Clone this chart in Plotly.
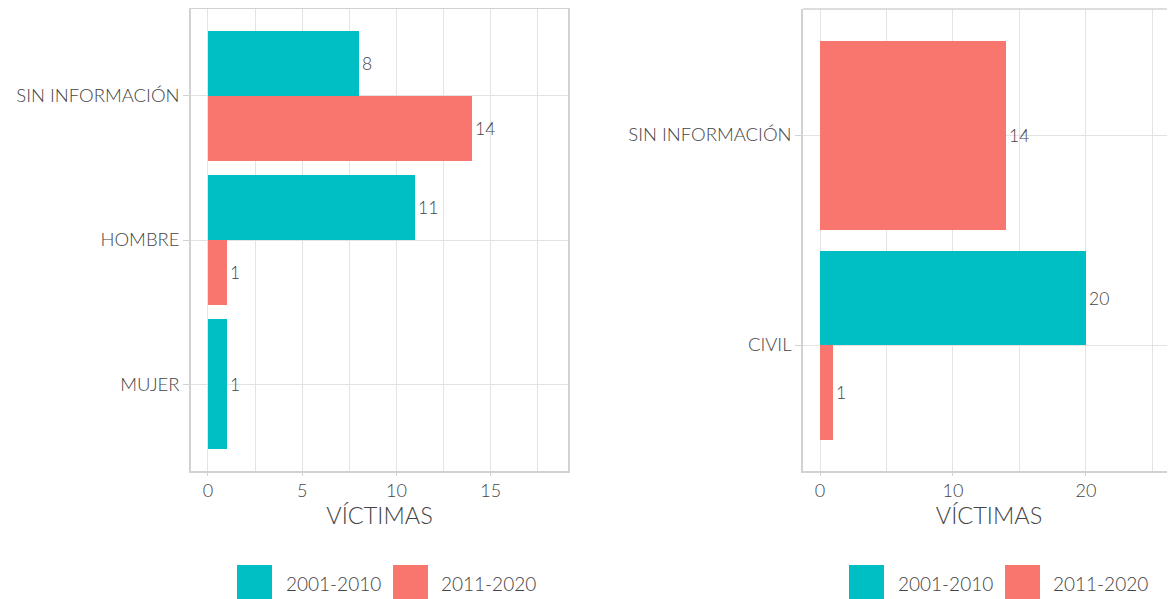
import plotly.graph_objects as go

# ---- data ----
series = ["2001-2010", "2011-2020"]
colors = {"2001-2010": "#00BFC4", "2011-2020": "#F8766D"}

sexo_cats = ["SIN INFORMACIÓN", "HOMBRE", "MUJER"]
sexo_2001_2010 = [8, 11, 1]
sexo_2011_2020 = [14, 1, None]

cond_cats = ["SIN INFORMACIÓN", "CIVIL"]
cond_2001_2010 = [None, 20]
cond_2011_2020 = [14, 1]

FONT = "Lato"
TXT = "#444444"
GRID = "#e3e3e3"
BORDER = "#d2d2d2"

# the page body has an 8px margin; the figure is sized to the visible area
OFF = 8
W, H = 1175 - OFF, 599 - OFF


def px(x):
    return (x - OFF) / W


def py(y):
    return 1 - (y - OFF) / H


fig = go.Figure()


def add_panel(cats, vals_by_series, xa, ya):
    # ggplot-like dodge: bars present in a category share width 0.9
    for s in series:
        ys, xs, ws = [], [], []
        for i, c in enumerate(cats):
            present = [t for t in series if vals_by_series[t][i] is not None]
            if vals_by_series[s][i] is None:
                continue
            n = len(present)
            w = 0.9 / n
            k = present.index(s)
            ys.append(i - 0.45 + w * (k + 0.5))
            xs.append(vals_by_series[s][i])
            ws.append(w)
        fig.add_trace(go.Bar(
            x=xs, y=ys, width=ws, orientation="h", name=s,
            marker=dict(color=colors[s], line=dict(width=0)),
            text=[str(v) for v in xs], textposition="outside",
            textfont=dict(family=FONT, size=17.5, color=TXT, weight=300),
            cliponaxis=False, showlegend=False,
            xaxis=xa, yaxis=ya,
        ))


add_panel(sexo_cats, {"2001-2010": sexo_2001_2010, "2011-2020": sexo_2011_2020}, "x", "y")
add_panel(cond_cats, {"2001-2010": cond_2001_2010, "2011-2020": cond_2011_2020}, "x2", "y2")

ydom = [py(471), py(9)]

common_x = dict(
    showgrid=True, gridcolor=GRID, gridwidth=1, zeroline=False,
    showline=True, linecolor=BORDER, linewidth=1.5,
    ticks="outside", ticklen=3, tickcolor=BORDER,
    tickfont=dict(family=FONT, size=18, color=TXT, weight=300),
    title=dict(text="VÍCTIMAS", font=dict(family=FONT, size=23.5, color=TXT, weight=300), standoff=2),
    tickmode="linear", tick0=0, fixedrange=True,
)
common_y = dict(
    showgrid=True, gridcolor=GRID, gridwidth=1, zeroline=False,
    showline=True, linecolor=BORDER, linewidth=1.5,
    ticks="outside", ticklen=6, tickcolor=BORDER,
    tickfont=dict(family=FONT, size=18.5, color=TXT, weight=300),
    tickmode="array",
)

fig.update_layout(
    width=W, height=H,
    margin=dict(l=0, r=0, t=0, b=0),
    paper_bgcolor="white", plot_bgcolor="white",
    barmode="overlay",
    bargap=0,
    xaxis=dict(common_x, domain=[px(191), px(568)], range=[-0.9, 19.1], dtick=5,
               mirror=True, anchor="y",
               minor=dict(dtick=2.5, tick0=0, showgrid=True, gridcolor=GRID, ticks="")),
    yaxis=dict(common_y, domain=ydom, range=[2.6, -0.6], mirror=True, anchor="x",
               tickvals=list(range(len(sexo_cats))), ticktext=sexo_cats),
    xaxis2=dict(common_x, domain=[px(803), 1.0], range=[-1.28, 26.7], dtick=10,
                mirror=False, anchor="y2",
                minor=dict(dtick=5, tick0=0, showgrid=True, gridcolor=GRID, ticks="")),
    yaxis2=dict(common_y, domain=ydom, range=[1.6, -0.6], mirror=False, anchor="x2",
                tickvals=list(range(len(cond_cats))), ticktext=cond_cats),
)

# top border of the right panel (ggplot panel border, clipped on the right)
fig.add_shape(type="line", xref="paper", yref="paper", x0=px(803), x1=1.0,
              y0=ydom[1], y1=ydom[1], line=dict(color=BORDER, width=1.5))


# legends drawn below each panel
def add_legend(x_key_starts, x_text_starts):
    for s, kx, tx in zip(series, x_key_starts, x_text_starts):
        fig.add_shape(type="rect", xref="paper", yref="paper",
                      x0=px(kx), x1=px(kx + 35), y0=py(601), y1=py(565),
                      fillcolor=colors[s], line=dict(width=0))
        fig.add_annotation(xref="paper", yref="paper", x=px(tx), y=py(583),
                           xanchor="left", yanchor="middle", showarrow=False,
                           text=s, font=dict(family=FONT, size=19, color=TXT, weight=300))


add_legend([237, 393], [284, 439])
add_legend([849, 1005], [896, 1051])

fig.write_html("out.html")
